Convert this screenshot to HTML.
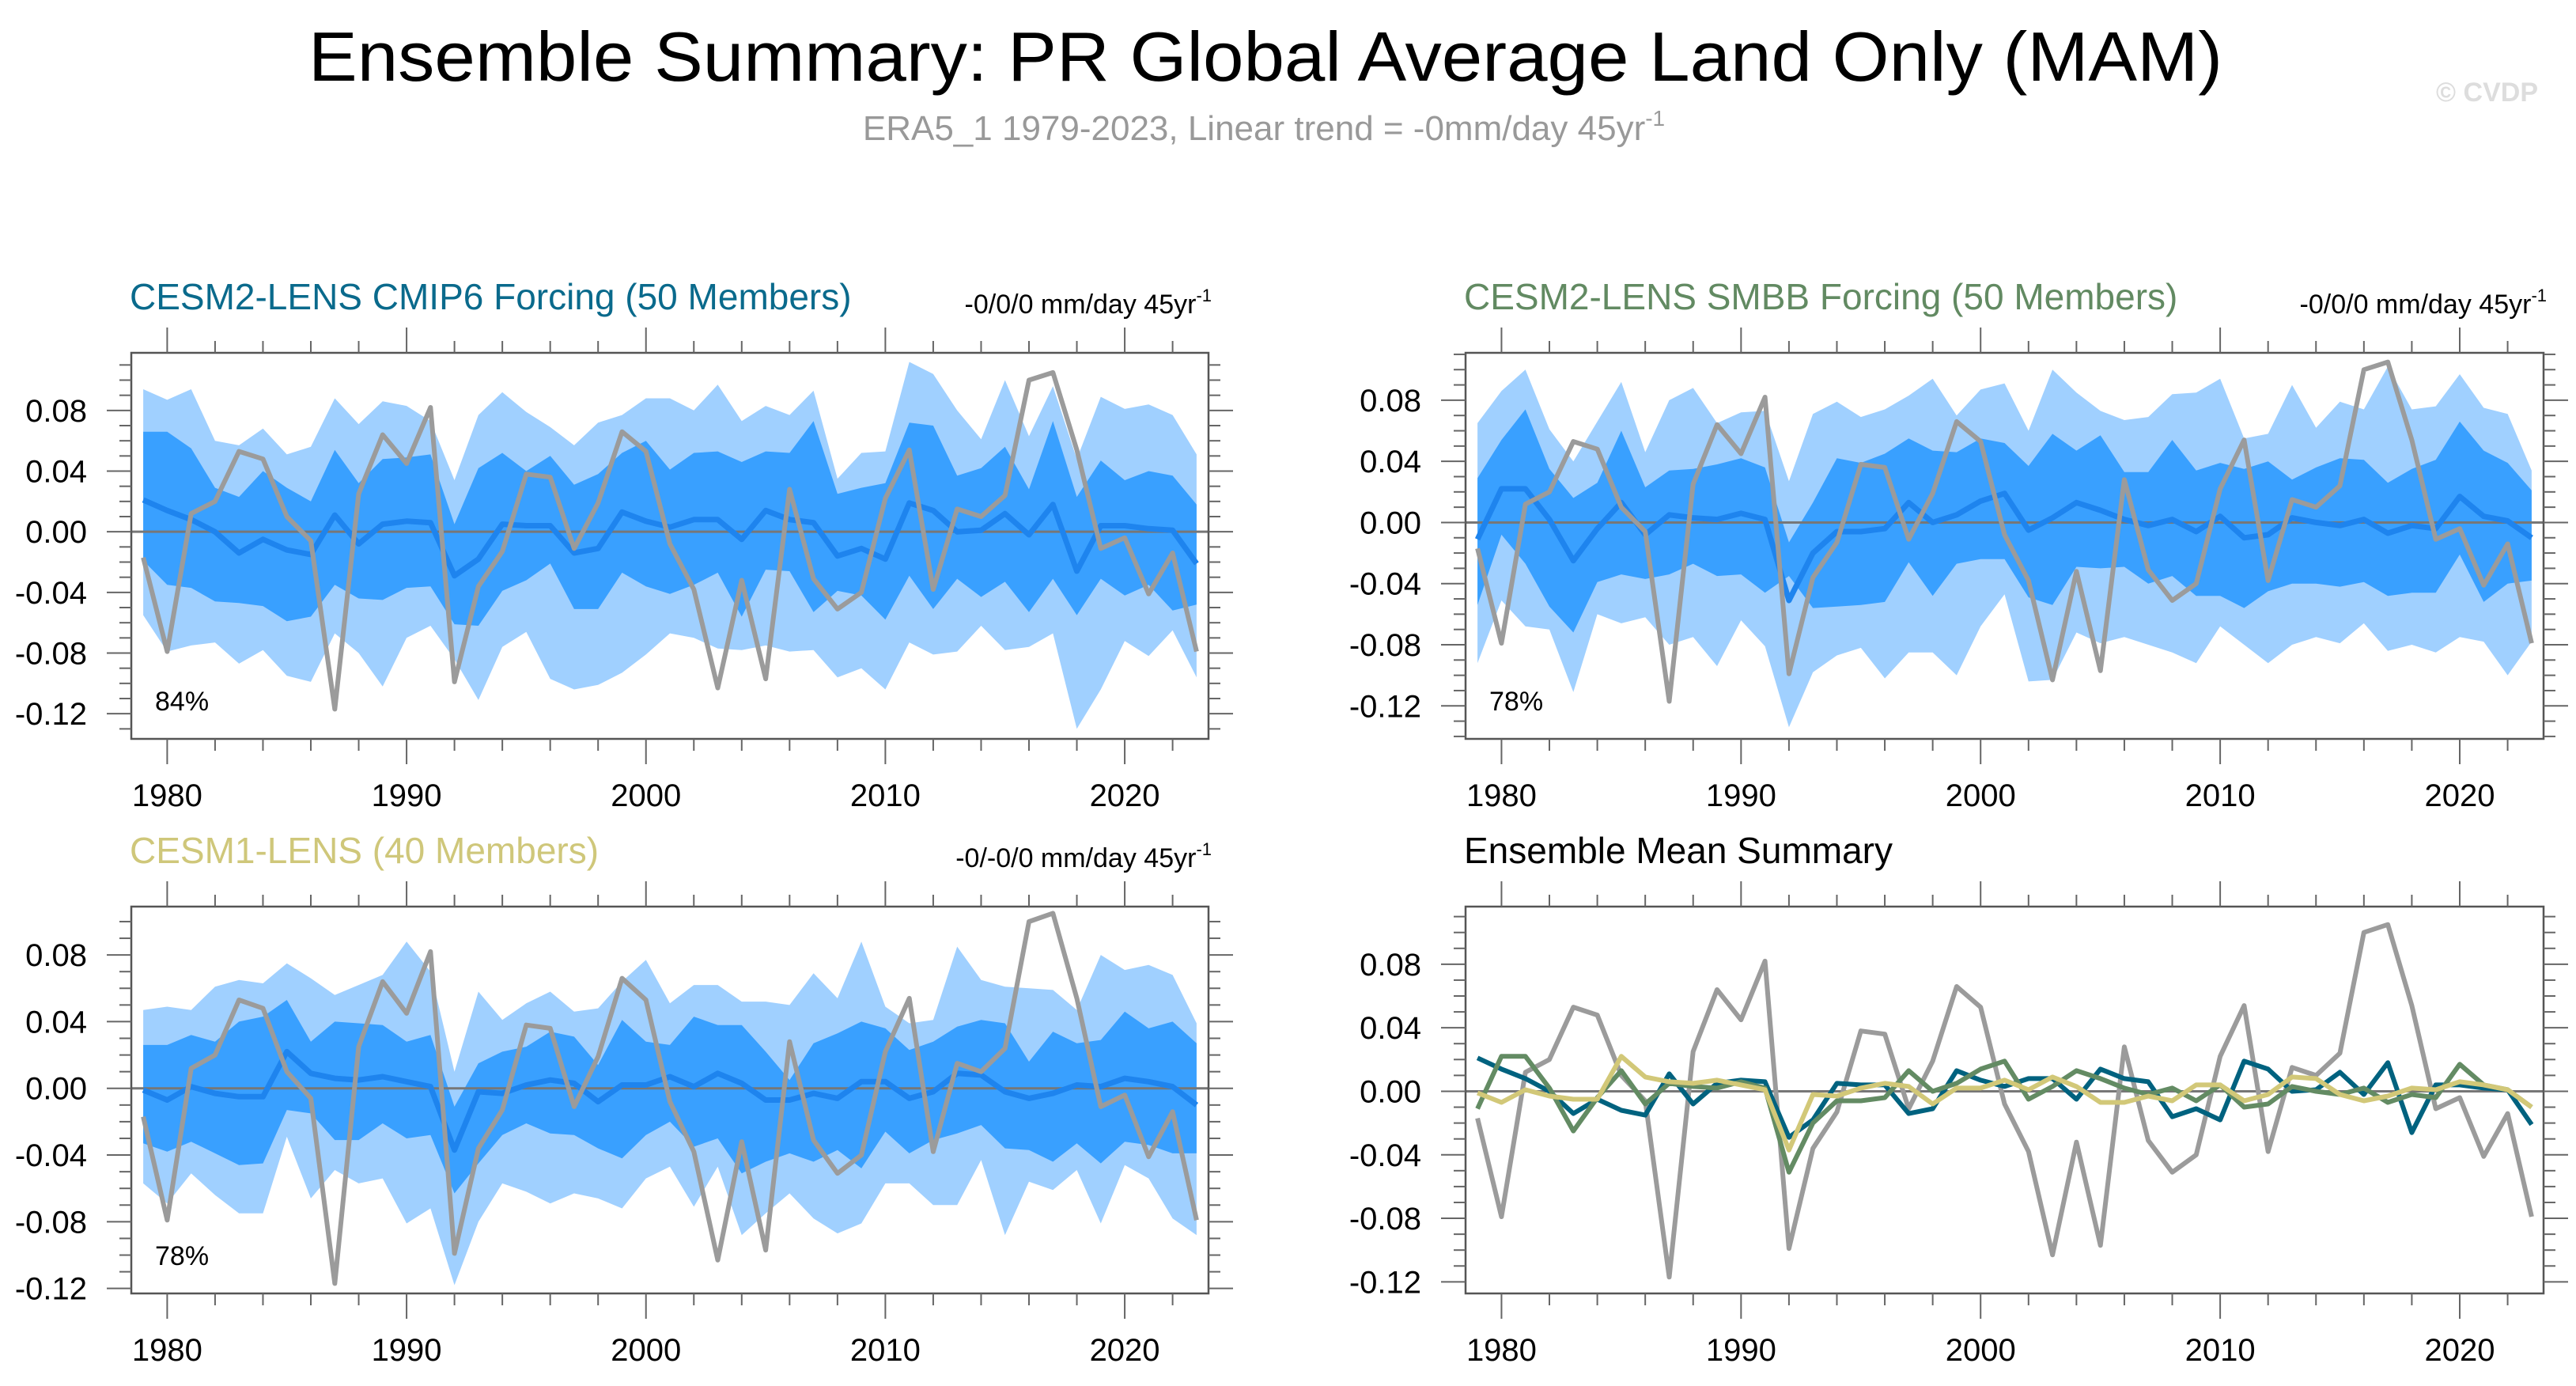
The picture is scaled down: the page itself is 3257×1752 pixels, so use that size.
<!DOCTYPE html>
<html><head><meta charset="utf-8"><style>
html,body{margin:0;padding:0;background:#fff;}
svg{display:block;font-family:"Liberation Sans",Arial,sans-serif;}
</style></head><body>
<svg id="fig" width="3257" height="1752" viewBox="0 0 3257 1752" xmlns="http://www.w3.org/2000/svg">
<rect width="3257" height="1752" fill="#fff"/>
<text x="1600" y="102" font-size="88" text-anchor="middle" textLength="2420" lengthAdjust="spacingAndGlyphs" fill="#000">Ensemble Summary: PR Global Average Land Only (MAM)</text>
<text x="1598" y="177" font-size="44" text-anchor="middle" fill="#999">ERA5_1 1979-2023, Linear trend = -0mm/day 45yr<tspan font-size="28" dy="-18">-1</tspan></text>
<text x="3209" y="128" font-size="34" font-weight="bold" text-anchor="end" fill="#ddd">© CVDP</text>
<g id="panels"></g>
</svg>
<script>
const years = [];
for (let y = 1979; y <= 2023; y++) years.push(y);
const obs = [-0.017,-0.079,0.012,0.020,0.053,0.048,0.010,-0.006,-0.117,0.025,0.064,0.045,0.082,-0.099,-0.036,-0.013,0.038,0.036,-0.011,0.019,0.066,0.053,-0.008,-0.038,-0.103,-0.032,-0.097,0.028,-0.031,-0.051,-0.040,0.022,0.054,-0.038,0.015,0.010,0.024,0.100,0.105,0.054,-0.011,-0.004,-0.041,-0.014,-0.079];
const meanCmip6 = [0.021,0.014,0.008,0.000,-0.014,-0.005,-0.012,-0.015,0.011,-0.008,0.005,0.007,0.006,-0.029,-0.018,0.005,0.004,0.004,-0.014,-0.011,0.013,0.007,0.003,0.008,0.008,-0.005,0.014,0.008,0.006,-0.016,-0.011,-0.018,0.019,0.014,0.000,0.001,0.012,-0.002,0.018,-0.026,0.004,0.004,0.002,0.001,-0.021];
const meanSmbb = [-0.011,0.022,0.022,0.002,-0.025,-0.004,0.013,-0.008,0.005,0.003,0.002,0.006,0.002,-0.051,-0.020,-0.006,-0.006,-0.004,0.013,0.000,0.005,0.014,0.019,-0.005,0.003,0.013,0.008,0.002,-0.002,0.002,-0.006,0.004,-0.010,-0.008,0.003,0.000,-0.002,0.002,-0.007,-0.002,-0.004,0.017,0.004,0.001,-0.010];
const meanCesm1 = [-0.001,-0.007,0.001,-0.003,-0.005,-0.005,0.022,0.009,0.006,0.005,0.007,0.004,0.001,-0.037,-0.002,-0.003,0.002,0.005,0.003,-0.008,0.002,0.002,0.007,0.001,0.009,0.003,-0.007,-0.007,-0.003,-0.006,0.004,0.004,-0.006,-0.002,0.009,0.008,-0.002,-0.006,-0.003,0.002,0.001,0.006,0.004,0.001,-0.010];
const p1OuterHi = [0.094,0.087,0.094,0.060,0.057,0.068,0.051,0.056,0.088,0.071,0.086,0.083,0.073,0.034,0.077,0.092,0.079,0.069,0.057,0.072,0.077,0.088,0.088,0.080,0.097,0.073,0.083,0.077,0.093,0.035,0.052,0.053,0.112,0.104,0.080,0.061,0.100,0.063,0.096,0.048,0.089,0.081,0.084,0.077,0.051];
const p1InnerHi = [0.066,0.066,0.055,0.029,0.023,0.040,0.029,0.020,0.054,0.032,0.048,0.049,0.051,0.005,0.042,0.052,0.040,0.050,0.031,0.038,0.052,0.060,0.041,0.052,0.053,0.046,0.053,0.052,0.073,0.025,0.029,0.032,0.072,0.070,0.037,0.042,0.056,0.028,0.073,0.023,0.047,0.034,0.040,0.037,0.018];
const p1InnerLo = [-0.019,-0.035,-0.037,-0.046,-0.047,-0.049,-0.059,-0.056,-0.035,-0.044,-0.045,-0.037,-0.036,-0.061,-0.062,-0.039,-0.032,-0.021,-0.051,-0.051,-0.027,-0.036,-0.041,-0.035,-0.027,-0.056,-0.025,-0.026,-0.053,-0.039,-0.042,-0.058,-0.029,-0.051,-0.031,-0.043,-0.033,-0.053,-0.031,-0.055,-0.031,-0.042,-0.035,-0.052,-0.048];
const p1OuterLo = [-0.055,-0.079,-0.075,-0.073,-0.087,-0.078,-0.095,-0.099,-0.067,-0.080,-0.102,-0.070,-0.062,-0.084,-0.111,-0.076,-0.066,-0.097,-0.104,-0.101,-0.093,-0.081,-0.067,-0.070,-0.077,-0.078,-0.075,-0.079,-0.078,-0.096,-0.090,-0.104,-0.073,-0.081,-0.079,-0.062,-0.078,-0.076,-0.067,-0.130,-0.104,-0.072,-0.082,-0.065,-0.096];
const p2OuterHi = [0.065,0.086,0.100,0.061,0.040,0.066,0.092,0.046,0.080,0.088,0.065,0.072,0.073,0.027,0.071,0.079,0.069,0.074,0.083,0.094,0.070,0.087,0.091,0.060,0.100,0.085,0.073,0.067,0.069,0.084,0.085,0.094,0.055,0.058,0.090,0.062,0.079,0.074,0.102,0.074,0.076,0.097,0.075,0.071,0.034];
const p2InnerHi = [0.029,0.054,0.074,0.035,0.016,0.026,0.060,0.023,0.034,0.035,0.038,0.042,0.036,-0.013,0.013,0.042,0.039,0.045,0.055,0.047,0.046,0.055,0.052,0.037,0.058,0.047,0.057,0.033,0.033,0.054,0.034,0.039,0.035,0.040,0.028,0.036,0.042,0.041,0.026,0.035,0.041,0.066,0.047,0.039,0.021];
const p2InnerLo = [-0.054,-0.008,-0.027,-0.055,-0.072,-0.039,-0.034,-0.037,-0.034,-0.027,-0.035,-0.034,-0.046,-0.035,-0.056,-0.055,-0.054,-0.052,-0.026,-0.048,-0.027,-0.024,-0.024,-0.049,-0.054,-0.029,-0.030,-0.029,-0.040,-0.035,-0.048,-0.048,-0.056,-0.045,-0.040,-0.040,-0.042,-0.039,-0.048,-0.046,-0.046,-0.021,-0.052,-0.040,-0.038];
const p2OuterLo = [-0.092,-0.051,-0.068,-0.070,-0.111,-0.060,-0.066,-0.062,-0.080,-0.075,-0.094,-0.064,-0.081,-0.134,-0.098,-0.087,-0.082,-0.102,-0.085,-0.085,-0.100,-0.068,-0.047,-0.104,-0.103,-0.072,-0.079,-0.075,-0.080,-0.085,-0.092,-0.068,-0.080,-0.092,-0.080,-0.075,-0.079,-0.066,-0.084,-0.080,-0.085,-0.075,-0.078,-0.100,-0.078];
const p3OuterHi = [0.047,0.049,0.047,0.061,0.065,0.063,0.075,0.066,0.056,0.062,0.068,0.088,0.070,0.010,0.058,0.041,0.051,0.058,0.046,0.048,0.064,0.077,0.051,0.062,0.062,0.052,0.052,0.050,0.069,0.054,0.088,0.049,0.039,0.041,0.085,0.065,0.061,0.060,0.059,0.047,0.080,0.071,0.074,0.068,0.039];
const p3InnerHi = [0.026,0.026,0.032,0.028,0.040,0.043,0.053,0.028,0.040,0.039,0.038,0.028,0.032,-0.011,0.015,0.022,0.025,0.034,0.031,0.014,0.041,0.028,0.026,0.043,0.038,0.038,0.022,0.005,0.027,0.033,0.040,0.036,0.023,0.028,0.037,0.041,0.039,0.016,0.034,0.027,0.029,0.046,0.036,0.040,0.027];
const p3InnerLo = [-0.033,-0.038,-0.032,-0.039,-0.046,-0.045,-0.013,-0.015,-0.031,-0.031,-0.021,-0.030,-0.028,-0.063,-0.045,-0.028,-0.021,-0.027,-0.028,-0.036,-0.042,-0.028,-0.020,-0.035,-0.030,-0.051,-0.044,-0.039,-0.044,-0.037,-0.048,-0.026,-0.039,-0.031,-0.027,-0.022,-0.036,-0.037,-0.044,-0.033,-0.045,-0.032,-0.034,-0.039,-0.039];
const p3OuterLo = [-0.057,-0.069,-0.051,-0.064,-0.075,-0.075,-0.029,-0.066,-0.049,-0.057,-0.054,-0.081,-0.072,-0.118,-0.080,-0.057,-0.062,-0.069,-0.063,-0.066,-0.072,-0.054,-0.047,-0.071,-0.047,-0.088,-0.075,-0.063,-0.078,-0.087,-0.081,-0.057,-0.057,-0.070,-0.070,-0.043,-0.088,-0.056,-0.061,-0.049,-0.081,-0.046,-0.054,-0.078,-0.088];
const yTickVals = [0.08,0.04,0.00,-0.04,-0.08,-0.12];
const yTickLabels = ["0.08","0.04","0.00","-0.04","-0.08","-0.12"];
const xTickVals = [1980,1990,2000,2010,2020];
const xTickLabels = ["1980","1990","2000","2010","2020"];

const NS = "http://www.w3.org/2000/svg";
const root = document.getElementById('panels');
function mk(tag, attrs, parent){
  const e = document.createElementNS(NS, tag);
  for (const k in attrs) e.setAttribute(k, attrs[k]);
  (parent||root).appendChild(e);
  return e;
}
const C_LIGHT="#a0d0ff", C_MED="#39a0ff", C_MEAN="#1e84ee", C_OBS="#9b9b9b";
const panels = [
  {key:"cmip6", x0:166,x1:1528,y0:446,y1:934, ymin:-0.1366,ymax:0.118, title:"CESM2-LENS CMIP6 Forcing (50 Members)", tcolor:"#0a6a8c", trend:"-0/0/0 mm/day 45yr", pct:"84%", bands:[p1OuterHi,p1InnerHi,p1InnerLo,p1OuterLo], mean:meanCmip6},
  {key:"smbb", x0:1853,x1:3216,y0:446,y1:934, ymin:-0.1416,ymax:0.111, title:"CESM2-LENS SMBB Forcing (50 Members)", tcolor:"#628a62", trend:"-0/0/0 mm/day 45yr", pct:"78%", bands:[p2OuterHi,p2InnerHi,p2InnerLo,p2OuterLo], mean:meanSmbb},
  {key:"cesm1", x0:166,x1:1528,y0:1146,y1:1635, ymin:-0.123,ymax:0.109, title:"CESM1-LENS (40 Members)", tcolor:"#cfc77a", trend:"-0/-0/0 mm/day 45yr", pct:"78%", bands:[p3OuterHi,p3InnerHi,p3InnerLo,p3OuterLo], mean:meanCesm1},
  {key:"summary", x0:1853,x1:3216,y0:1146,y1:1635, ymin:-0.1273,ymax:0.1163, title:"Ensemble Mean Summary", tcolor:"#000", trend:null}
];
const XMIN=1978.5, XMAX=2023.5;
panels.forEach(p=>{
  const g = mk('g',{});
  
  
  const sx = v => p.x0 + (v-XMIN)/(XMAX-XMIN)*(p.x1-p.x0);
  const sy = v => p.y1 - (v-p.ymin)/(p.ymax-p.ymin)*(p.y1-p.y0);
  const t = mk('text',{x:p.x0-2,y:p.y0-55,'font-size':46,fill:p.tcolor},g);
  t.textContent = p.title;
  
  
  if (p.trend){
    const tr = mk('text',{x:p.x1+4,y:p.y0-50,'font-size':34,'text-anchor':'end',fill:'#000'},g);
    tr.textContent = p.trend;
    const sp = mk('tspan',{'font-size':22,dy:-15},tr);
    sp.textContent = "-1";
    
    
  }
  const clip = mk('clipPath',{id:'clip-'+p.key},g);
  mk('rect',{x:p.x0,y:p.y0,width:p.x1-p.x0,height:p.y1-p.y0},clip);
  const pg = mk('g',{'clip-path':'url(#clip-'+p.key+')'},g);
  function bandPath(hi, lo){
    let d = "";
    hi.forEach((v,i)=>{ d += (i?"L":"M")+sx(years[i]).toFixed(1)+","+sy(v).toFixed(1); });
    for (let i=lo.length-1;i>=0;i--) d += "L"+sx(years[i]).toFixed(1)+","+sy(lo[i]).toFixed(1);
    return d+"Z";
  }
  function linePath(arr){
    return arr.map((v,i)=>(i?"L":"M")+sx(years[i]).toFixed(1)+","+sy(v).toFixed(1)).join("");
  }
  if (p.bands){
    const b1 = mk('path',{d:bandPath(p.bands[0],p.bands[3]),fill:C_LIGHT},pg);
    
    
    const b2 = mk('path',{d:bandPath(p.bands[1],p.bands[2]),fill:C_MED},pg);
    
    
  }
  mk('line',{x1:p.x0,x2:p.x1,y1:sy(0),y2:sy(0),stroke:'#777','stroke-width':3},pg);
  if (p.bands){
    const m = mk('path',{d:linePath(p.mean),fill:'none',stroke:C_MEAN,'stroke-width':7,'stroke-linejoin':'round'},pg);
    
    
    const o = mk('path',{d:linePath(obs),fill:'none',stroke:C_OBS,'stroke-width':6,'stroke-linejoin':'round'},pg);
    
    
    const pc = mk('text',{x:p.x0+30,y:p.y1-36,'font-size':34,fill:'#000'},g);
    pc.textContent = p.pct;
    
    
  } else {
    const o = mk('path',{d:linePath(obs),fill:'none',stroke:C_OBS,'stroke-width':6,'stroke-linejoin':'round'},pg);
    
    
    const l1 = mk('path',{d:linePath(meanCmip6),fill:'none',stroke:'#00627f','stroke-width':6,'stroke-linejoin':'round'},pg);
    
    
    const l2 = mk('path',{d:linePath(meanSmbb),fill:'none',stroke:'#638b63','stroke-width':6,'stroke-linejoin':'round'},pg);
    
    
    const l3 = mk('path',{d:linePath(meanCesm1),fill:'none',stroke:'#d2c878','stroke-width':6,'stroke-linejoin':'round'},pg);
    
    
  }
  mk('rect',{x:p.x0,y:p.y0,width:p.x1-p.x0,height:p.y1-p.y0,fill:'none',stroke:'#555','stroke-width':2.5},g);
  for (let v=-0.20; v<=0.20001; v+=0.01){
    const vv = Math.round(v*100)/100;
    if (vv < p.ymin || vv > p.ymax) continue;
    const major = Math.abs(Math.round(vv*100)) % 4 === 0;
    const L = major?31:15;
    const y = sy(vv);
    mk('line',{x1:p.x0-L,x2:p.x0,y1:y,y2:y,stroke:'#666','stroke-width':2},g);
    mk('line',{x1:p.x1,x2:p.x1+L,y1:y,y2:y,stroke:'#666','stroke-width':2},g);
  }
  yTickVals.forEach((v,i)=>{
    const tl = mk('text',{x:p.x0-56,y:sy(v)+14,'font-size':40,'text-anchor':'end',fill:'#000'},g);
    tl.textContent = yTickLabels[i];
    
    
  });
  for (let yr=1980; yr<=2022; yr+=2){
    const major = yr%10===0;
    const L = major?32:15;
    const x = sx(yr);
    mk('line',{x1:x,x2:x,y1:p.y0-L,y2:p.y0,stroke:'#666','stroke-width':2},g);
    mk('line',{x1:x,x2:x,y1:p.y1,y2:p.y1+L,stroke:'#666','stroke-width':2},g);
  }
  xTickVals.forEach((v,i)=>{
    const tl = mk('text',{x:sx(v),y:p.y1+85,'font-size':40,'text-anchor':'middle',fill:'#000'},g);
    tl.textContent = xTickLabels[i];
    
    
  });
});
</script>
</body></html>
